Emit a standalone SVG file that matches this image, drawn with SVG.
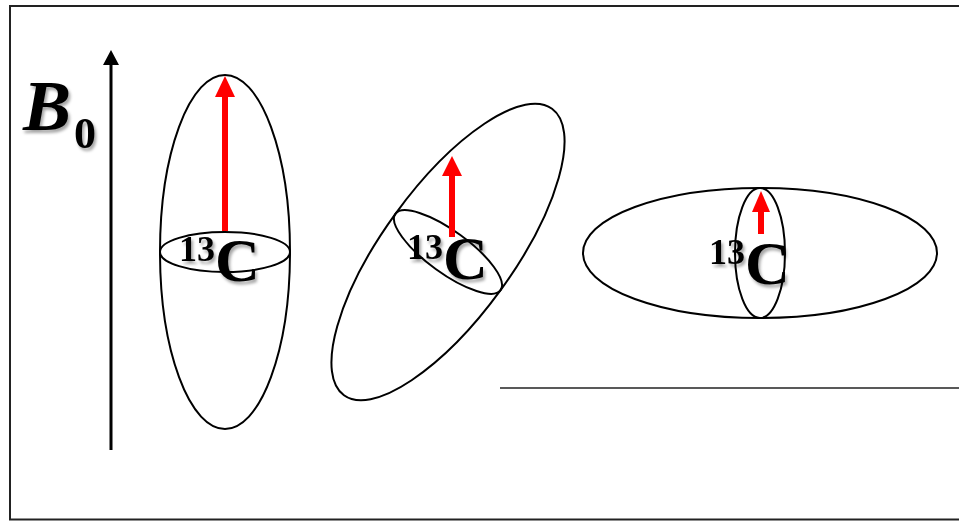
<svg xmlns="http://www.w3.org/2000/svg" width="959" height="521" viewBox="0 0 959 521">
<defs>
<style>
.ell{fill:none;stroke:#000;stroke-width:2}
.red{stroke:#ff0000;stroke-width:6}
.lbl{font-family:"Liberation Serif","Times New Roman",serif;font-weight:bold;fill:#000}
</style>
<filter id="sh" x="-20%" y="-20%" width="150%" height="150%">
<feDropShadow dx="2" dy="3" stdDeviation="1.5" flood-color="#000" flood-opacity="0.35"/>
</filter>
</defs>
<rect x="0" y="0" width="959" height="521" fill="#fff"/>
<rect x="10" y="6" width="950" height="513.5" fill="none" stroke="#222" stroke-width="2"/>
<line x1="500" y1="388" x2="959" y2="388" stroke="#222" stroke-width="1.5"/>

<g id="b0">
<line x1="111" y1="450" x2="111" y2="64" stroke="#000" stroke-width="3"/>
<polygon points="103,65 111,50 119,65" fill="#000"/>
<text x="23" y="130" class="lbl" font-size="72" font-style="italic" filter="url(#sh)">B</text>
<text x="74" y="148" class="lbl" font-size="44" filter="url(#sh)">0</text>
</g>

<g id="node1">
<ellipse cx="225" cy="252" rx="65" ry="177" class="ell"/>
<ellipse cx="225" cy="252" rx="65" ry="20" class="ell"/>
<line x1="225" y1="231" x2="225" y2="95" class="red"/>
<polygon points="215,97 225,76 235,97" fill="#ff0000"/>
<text x="179" y="281" class="lbl" filter="url(#sh)"><tspan font-size="36" dy="-20">13</tspan><tspan font-size="62" dy="20">C</tspan></text>
</g>

<g id="node2">
<ellipse cx="448" cy="252" rx="65" ry="177" class="ell" transform="rotate(36 448 252)"/>
<ellipse cx="448" cy="252" rx="65" ry="21" class="ell" transform="rotate(36 448 252)"/>
<line x1="452" y1="237" x2="452" y2="174" class="red"/>
<polygon points="442,176 452,156 462,176" fill="#ff0000"/>
<text x="407" y="279" class="lbl" filter="url(#sh)"><tspan font-size="36" dy="-20">13</tspan><tspan font-size="62" dy="20">C</tspan></text>
</g>

<g id="node3">
<ellipse cx="760" cy="253" rx="177" ry="65" class="ell"/>
<ellipse cx="760" cy="253" rx="25" ry="65" class="ell"/>
<line x1="761" y1="234" x2="761" y2="210" class="red"/>
<polygon points="752,212 761,191 770,212" fill="#ff0000"/>
<text x="709" y="284" class="lbl" filter="url(#sh)"><tspan font-size="36" dy="-20">13</tspan><tspan font-size="62" dy="20">C</tspan></text>
</g>
</svg>
